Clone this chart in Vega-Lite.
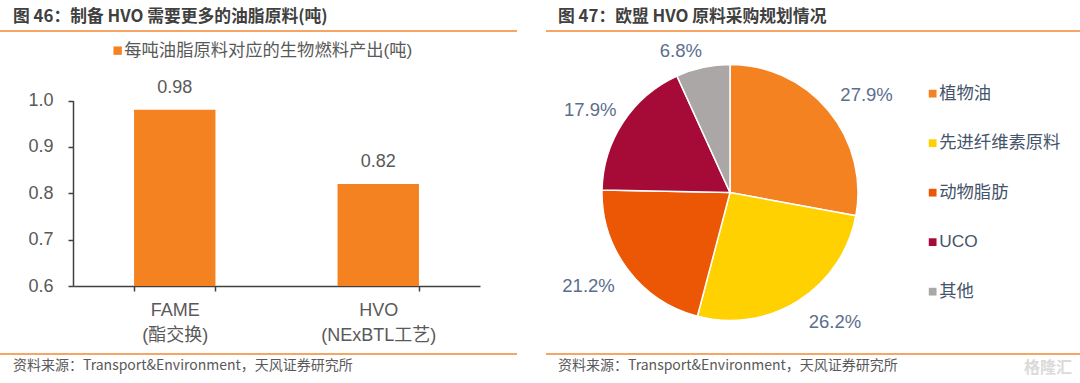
{
"$schema":"https://vega.github.io/schema/vega-lite/v6.json",
"padding":{"left":0,"top":9,"right":0,"bottom":0},
"background":"white",
"bounds":"flush",
"columns":2,
"align":"each",
"spacing":{"column":29,"row":0},
"resolve":{"scale":{"color":"independent","x":"independent","y":"independent","theta":"independent"},"legend":{"color":"independent"}},
"config":{"view":{"stroke":null},"font":"Liberation Sans, Noto Sans CJK SC"},
"datasets":{"blank":[{"k":1}],
"bars":[{"cat":"FAME\n(酯交换)","v":0.98,"s":"每吨油脂原料对应的生物燃料产出(吨)"},{"cat":"HVO\n(NExBTL工艺)","v":0.82,"s":"每吨油脂原料对应的生物燃料产出(吨)"}],
"pie":[{"name":"植物油","share":0.279,"o":1},{"name":"先进纤维素原料","share":0.262,"o":2},{"name":"动物脂肪","share":0.212,"o":3},{"name":"UCO","share":0.179,"o":4},{"name":"其他","share":0.068,"o":5}]},
"concat":[
{"width":517,"height":2,"data":{"name":"blank"},"mark":{"type":"rect","color":"#F6A565"},"encoding":{},
 "title":{"text":"图 46：制备 HVO 需要更多的油脂原料(吨)","anchor":"start","frame":"group","dx":13,"offset":4,"fontSize":16.8,"fontWeight":"bold","color":"#404040","font":"Noto Sans CJK SC"}},
{"width":534,"height":2,"data":{"name":"blank"},"mark":{"type":"rect","color":"#F6A565"},"encoding":{},
 "title":{"text":"图 47：欧盟 HVO 原料采购规划情况","anchor":"start","frame":"group","dx":12,"offset":4,"fontSize":16.8,"fontWeight":"bold","color":"#404040","font":"Noto Sans CJK SC"}},
{"width":517,"height":321,"data":{"name":"bars"},
  "encoding":{"x":{"field":"cat","type":"nominal","sort":null,"title":null,"scale":{"range":[73,480],"paddingInner":0.6,"paddingOuter":0.3},
    "axis":{"offset":-67,"labelAngle":0,"labelExpr":"split(datum.label,'\\n')","tickBand":"extent","labelFontSize":18,"labelColor":"#595959","labelPadding":10,"labelLineHeight":25,"domainColor":"#404040","tickColor":"#404040","tickSize":5,"domainWidth":1.5,"tickWidth":1.5}}},
  "layer":[
   {"mark":{"type":"bar"},"encoding":{"y":{"field":"v","type":"quantitative","title":null,"scale":{"domain":[0.6,1.0],"nice":false,"range":[254,68.5]},
     "axis":{"offset":-73,"values":[0.6,0.7,0.8,0.9,1.0],"format":".1f","grid":false,"labelFontSize":18,"labelColor":"#595959","labelPadding":15,"domainColor":"#404040","tickColor":"#404040","tickSize":5,"domainWidth":1.5,"tickWidth":1.5}},
     "y2":{"datum":0.6},
     "color":{"field":"s","type":"nominal","title":null,"scale":{"range":["#F58220"]},
     "legend":{"orient":"none","legendX":109,"legendY":10,"symbolType":"square","symbolSize":70,"labelFontSize":17.3,"labelColor":"#595959","labelOffset":-2,"labelLimit":400}}}},
   {"mark":{"type":"text","dy":-22,"fontSize":18,"color":"#595959"},"encoding":{"y":{"field":"v","type":"quantitative"},"text":{"field":"v","type":"quantitative","format":".2f"}}}
  ]},
{"width":368,"height":321,"data":{"name":"pie"},
 "encoding":{"theta":{"field":"share","type":"quantitative","stack":true,"scale":{"domain":[0,1]}},"order":{"field":"o","type":"ordinal"}},
 "layer":[
  {"mark":{"type":"arc","outerRadius":128,"stroke":"white","strokeWidth":1.5},
   "encoding":{"color":{"field":"name","type":"nominal","sort":["植物油","先进纤维素原料","动物脂肪","UCO","其他"],"title":null,"scale":{"domain":["植物油","先进纤维素原料","动物脂肪","UCO","其他"],"range":["#F58220","#FFD100","#EB5704","#A50B36","#ABA7A6"]},
    "legend":{"orient":"none","legendX":378,"legendY":53,"symbolType":"square","symbolSize":60,"labelFontSize":17.3,"labelColor":"#44546A","labelOffset":-2,"rowPadding":31.5,"symbolStrokeWidth":0,"labelLimit":200}}}},
  {"mark":{"type":"text","radius":166,"dx":9,"dy":9,"fontSize":18.5,"color":"#5B6E8C"},
   "encoding":{"text":{"condition":{"test":"datum.o==1","field":"share","type":"quantitative","format":".1%"},"value":""}}},
  {"mark":{"type":"text","radius":166,"dx":16,"dy":-11,"fontSize":18.5,"color":"#5B6E8C"},
   "encoding":{"text":{"condition":{"test":"datum.o==2","field":"share","type":"quantitative","format":".1%"},"value":""}}},
  {"mark":{"type":"text","radius":166,"dx":-9,"dy":-7,"fontSize":18.5,"color":"#5B6E8C"},
   "encoding":{"text":{"condition":{"test":"datum.o==3","field":"share","type":"quantitative","format":".1%"},"value":""}}},
  {"mark":{"type":"text","radius":166,"dx":-1,"dy":9,"fontSize":18.5,"color":"#5B6E8C"},
   "encoding":{"text":{"condition":{"test":"datum.o==4","field":"share","type":"quantitative","format":".1%"},"value":""}}},
  {"mark":{"type":"text","radius":166,"dx":-14,"dy":21,"fontSize":18.5,"color":"#5B6E8C"},
   "encoding":{"text":{"condition":{"test":"datum.o==5","field":"share","type":"quantitative","format":".1%"},"value":""}}}
 ]},
{"width":517,"height":2,"data":{"name":"blank"},"mark":{"type":"rect","color":"#F6A565"},"encoding":{},
 "title":{"text":"资料来源：Transport&Environment，天风证券研究所","orient":"bottom","anchor":"start","frame":"group","dx":13,"offset":4,"fontSize":14,"fontWeight":"normal","color":"#595959","font":"Noto Sans CJK SC"}},
{"width":534,"height":2,
 "title":{"text":"资料来源：Transport&Environment，天风证券研究所","orient":"bottom","anchor":"start","frame":"group","dx":12,"offset":-17,"fontSize":14,"fontWeight":"normal","color":"#595959","font":"Noto Sans CJK SC"},
 "layer":[
  {"data":{"name":"blank"},"mark":{"type":"rect","color":"#F6A565"},"encoding":{}},
  {"data":{"values":[{"t":"格隆汇"}]},"mark":{"type":"text","dx":235,"dy":14,"fontSize":16,"fontWeight":"bold","color":"#DADADA","font":"Noto Sans CJK SC"},"encoding":{"text":{"field":"t"}}}
 ]}
]}
